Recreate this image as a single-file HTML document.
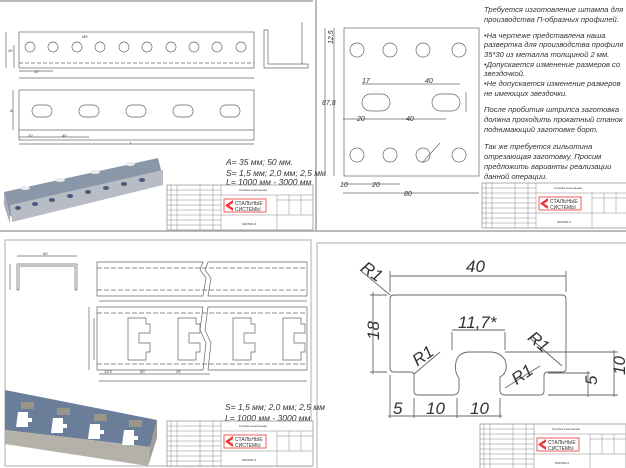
<!DOCTYPE html>
<html><head><meta charset="utf-8"><style>
html,body{margin:0;padding:0;background:#fff;}
svg{display:block;}
text{font-family:"Liberation Sans","DejaVu Sans",sans-serif;font-style:italic;fill:#333;}
</style></head><body>
<svg width="626" height="468" viewBox="0 0 626 468" xmlns="http://www.w3.org/2000/svg">
<rect width="626" height="468" fill="#fff"/>
<!-- panel separators -->
<g stroke="#bbb" stroke-width="2" fill="none">
<line x1="0" y1="1" x2="313" y2="1"/>
<line x1="0" y1="231" x2="626" y2="231"/>
<line x1="316" y1="0" x2="316" y2="231"/>
<rect x="5" y="240" width="306" height="226" stroke-width="1.2"/>
<line x1="317" y1="243" x2="317" y2="468" stroke-width="1.2"/>
<line x1="317" y1="243" x2="626" y2="243" stroke-width="1.2"/>
</g>

<!-- TOP LEFT -->
<g stroke="#666" stroke-width="0.7" fill="none">
<rect x="19" y="32" width="235" height="36"/>
<line x1="19" y1="63" x2="254" y2="63" stroke-dasharray="4 2"/>
<circle cx="30" cy="47" r="5"/><circle cx="53" cy="47" r="5"/><circle cx="77" cy="47" r="5"/><circle cx="100" cy="47" r="5"/><circle cx="124" cy="47" r="5"/><circle cx="147" cy="47" r="5"/><circle cx="171" cy="47" r="5"/><circle cx="194" cy="47" r="5"/><circle cx="217" cy="47" r="5"/><circle cx="241" cy="47" r="5"/>
<line x1="6" y1="32" x2="6" y2="68"/><line x1="14" y1="45" x2="14" y2="68"/>
<line x1="19" y1="78" x2="254" y2="78"/>
<line x1="19" y1="71" x2="53" y2="71"/>
<path d="M264 30 V68 H308 V64 H268 V30 Z"/>
<path d="M302 22 V64"/>
<rect x="19" y="90" width="235" height="50"/>
<line x1="19" y1="130" x2="254" y2="130"/>
<rect x="32" y="105" width="20" height="12" rx="6"/><rect x="79" y="105" width="20" height="12" rx="6"/><rect x="126" y="105" width="20" height="12" rx="6"/><rect x="173" y="105" width="20" height="12" rx="6"/><rect x="220" y="105" width="20" height="12" rx="6"/>
<line x1="13" y1="90" x2="13" y2="130"/>
<line x1="19" y1="137" x2="89" y2="137"/>
<line x1="19" y1="144" x2="254" y2="144"/>
</g>
<g font-size="4">
<text x="8" y="52">30</text><text x="34" y="73">10</text><text x="130" y="144">L</text><text x="10" y="112">A</text><text x="28" y="137">20</text><text x="62" y="137">40</text><text x="82" y="38">Ø9</text>
</g>
<g font-size="8.5"><text x="226" y="165">A= 35 мм; 50 мм.</text><text x="226" y="176">S= 1,5 мм; 2,0 мм; 2,5 мм</text><text x="226" y="185">L= 1000 мм - 3000 мм</text></g>
<!-- 3D profile TL -->
<polygon points="4,192 158,158 163,178 10,216" fill="#8a97a8"/>
<polygon points="4,192 10,216 10,224 4,205" fill="#aab"/>
<polygon points="10,205 163,170 163,185 12,222" fill="#b8bcc4"/>
<g fill="#4a5a7a"><ellipse cx="18" cy="208" rx="3" ry="2"/><ellipse cx="35" cy="204" rx="3" ry="2"/><ellipse cx="52" cy="200" rx="3" ry="2"/><ellipse cx="70" cy="196" rx="3" ry="2"/><ellipse cx="88" cy="192" rx="3" ry="2"/><ellipse cx="106" cy="188" rx="3" ry="2"/><ellipse cx="124" cy="184" rx="3" ry="2"/><ellipse cx="142" cy="180" rx="3" ry="2"/></g>
<g fill="#e8eaee"><ellipse cx="25" cy="188" rx="5" ry="2"/><ellipse cx="60" cy="180" rx="5" ry="2"/><ellipse cx="95" cy="172" rx="5" ry="2"/><ellipse cx="130" cy="164" rx="5" ry="2"/></g>

<!-- TOP RIGHT -->
<g stroke="#666" stroke-width="0.7" fill="none">
<rect x="344" y="28" width="135" height="148"/>
<circle cx="357" cy="50" r="7"/><circle cx="390" cy="50" r="7"/><circle cx="423" cy="50" r="7"/><circle cx="459" cy="50" r="7"/>
<circle cx="357" cy="155" r="7"/><circle cx="390" cy="155" r="7"/><circle cx="423" cy="155" r="7"/><circle cx="459" cy="155" r="7"/>
<rect x="362" y="94" width="28" height="17" rx="8.5"/><rect x="432" y="94" width="28" height="17" rx="8.5"/>
<line x1="334" y1="28" x2="334" y2="176"/><line x1="325" y1="28" x2="325" y2="176"/>
<line x1="362" y1="84" x2="460" y2="84"/><line x1="343" y1="119" x2="446" y2="119"/>
<line x1="343" y1="184" x2="400" y2="184"/><line x1="343" y1="193" x2="479" y2="193"/>
<line x1="466" y1="92" x2="466" y2="112"/>
<line x1="422" y1="163" x2="440" y2="143"/>
</g>
<g font-size="7"><text x="326" y="43" transform="rotate(-90 330 40)">12,5</text><text x="362" y="83">17</text><text x="425" y="83">40</text><text x="357" y="121">20</text><text x="406" y="121">40</text><text x="340" y="187">10</text><text x="372" y="187">20</text><text x="404" y="196">80</text><text x="322" y="105">87,8</text></g>
<g font-size="7.6"><text x="484" y="12">Требуется изготовление штампа для</text><text x="484" y="22">производства П-образных профилей.</text>
<text x="484" y="38">•На чертеже представлена наша</text><text x="484" y="47">развертка для производства профиля</text><text x="484" y="57">35*30 из металла толщиной 2 мм.</text><text x="484" y="67">•Допускается изменение размеров со</text><text x="484" y="76">звездочкой.</text><text x="484" y="86">•Не допускается изменение размеров</text><text x="484" y="96">не имеющих звездочки.</text>
<text x="484" y="112">После пробития штрипса заготовка</text><text x="484" y="122">должна проходить прокатный станок</text><text x="484" y="132">поднимающий заготовке борт.</text>
<text x="484" y="149">Так же требуется гильотина</text><text x="484" y="159">отрезающая заготовку. Просим</text><text x="484" y="169">предложить варианты реализации</text><text x="484" y="179">данной операции.</text></g>

<!-- BOTTOM LEFT -->
<g stroke="#666" stroke-width="0.7" fill="none">
<path d="M17 290 V264 H77 V290 H75 V266 H19 V290 Z"/>
<line x1="17" y1="256" x2="77" y2="256"/>
<line x1="10" y1="264" x2="10" y2="290"/>
<path d="M97 262 H203 L200 270 L206 278 L203 296 H97 Z"/>
<path d="M208 262 H307 V296 H208 L211 278 L205 270 Z"/>
<line x1="97" y1="268" x2="307" y2="268" stroke-dasharray="5 2"/><line x1="97" y1="290" x2="307" y2="290" stroke-dasharray="5 2"/>
<line x1="99" y1="301" x2="307" y2="301"/>
<path d="M97 307 H203 L200 330 L206 343 L203 370 H97 Z"/>
<path d="M208 307 H307 V370 H208 L211 343 L205 330 Z"/>
<line x1="97" y1="313" x2="307" y2="313" stroke-dasharray="5 2"/><line x1="97" y1="364" x2="307" y2="364" stroke-dasharray="5 2"/>
<path d="M128 318 H146 V324 H150 V333 H139 V343 H150 V352 H146 V360 H128 Z"/>
<path d="M178 318 H196 V324 H200 V333 H189 V343 H200 V352 H196 V360 H178 Z"/>
<path d="M233 318 H251 V324 H255 V333 H244 V343 H255 V352 H251 V360 H233 Z"/>
<path d="M283 318 H301 V324 H305 V333 H294 V343 H305 V352 H301 V360 H283 Z"/>
<line x1="89" y1="307" x2="89" y2="370"/><line x1="94" y1="318" x2="94" y2="360"/>
<line x1="99" y1="374" x2="210" y2="374"/><line x1="99" y1="381" x2="307" y2="381"/>
</g>
<g font-size="4"><text x="43" y="255">60</text><text x="104" y="373">13,5</text><text x="140" y="373">50</text><text x="176" y="373">25</text></g>
<g font-size="8.5"><text x="225" y="410">S= 1,5 мм; 2,0 мм; 2,5 мм</text><text x="225" y="421">L= 1000 мм - 3000 мм</text></g>
<polygon points="5,390 157,420 150,447 5,430" fill="#6a7d99"/>
<polygon points="5,430 150,447 148,466 5,444" fill="#b4b2a8"/>
<polygon points="150,447 157,420 157,438 148,466" fill="#a09e94"/>
<g fill="#fff"><path d="M18 412 H28 V418 H32 V422 H28 V427 H16 Z"/><path d="M53 418 H63 V424 H67 V428 H63 V433 H51 Z"/><path d="M90 424 H100 V430 H104 V434 H100 V439 H88 Z"/><path d="M124 430 H134 V436 H138 V440 H134 V445 H122 Z"/></g>
<g fill="#9a958a"><rect x="21" y="402" width="13" height="7"/><rect x="57" y="408" width="13" height="7"/><rect x="94" y="414" width="13" height="7"/><rect x="129" y="420" width="13" height="7"/></g>

<!-- BOTTOM RIGHT -->
<g stroke="#666" stroke-width="0.9" fill="none">
<path d="M394 295 H562 Q566 295 566 299 V369 Q566 372 562 372 H548 Q544 372 544 376 V391 Q544 395 540 395 H505 Q500 395 500 390 V377 Q509 372 505 360 Q500 352 490 352 H470 Q458 352 456 362 Q454 372 459 378 V390 Q458 395 453 395 H418 Q414 395 414 391 V375 Q414 372 410 372 H394 Q390 372 390 368 V299 Q390 295 394 295 Z"/>
<line x1="390" y1="271" x2="390" y2="292"/><line x1="566" y1="271" x2="566" y2="292"/>
<line x1="390" y1="276" x2="566" y2="276"/>
<line x1="370" y1="295" x2="387" y2="295"/><line x1="370" y1="372" x2="387" y2="372"/><line x1="373" y1="292" x2="373" y2="374"/>
<line x1="390" y1="375" x2="390" y2="418"/><line x1="414" y1="398" x2="414" y2="418"/><line x1="457" y1="398" x2="457" y2="418"/><line x1="500" y1="398" x2="500" y2="418"/>
<line x1="388" y1="416" x2="502" y2="416"/>
<line x1="452" y1="332" x2="452" y2="350"/><line x1="505" y1="332" x2="505" y2="350"/><line x1="452" y1="330" x2="505" y2="330"/>
<line x1="505" y1="352" x2="618" y2="352"/><line x1="548" y1="395" x2="618" y2="395"/><line x1="614" y1="350" x2="614" y2="397"/>
<line x1="548" y1="373" x2="590" y2="373"/><line x1="588" y1="371" x2="588" y2="397"/>
<line x1="360" y1="270" x2="390" y2="295"/><line x1="414" y1="374" x2="440" y2="352"/><line x1="505" y1="388" x2="540" y2="366"/><line x1="530" y1="338" x2="562" y2="366"/>
</g>
<g font-size="17" font-style="normal" style="font-style:italic"><text x="466" y="272">40</text><text x="458" y="328">11,7*</text><text x="362" y="277" transform="rotate(35 372 270)">R1</text><text x="374" y="345" transform="rotate(-90 374 340)">18</text><text x="414" y="364" transform="rotate(-35 420 360)">R1</text><text x="513" y="382" transform="rotate(-35 520 378)">R1</text><text x="530" y="346" transform="rotate(40 538 338)">R1</text><text x="393" y="414">5</text><text x="426" y="414">10</text><text x="470" y="414">10</text><text x="592" y="390" transform="rotate(-90 592 385)">5</text><text x="618" y="382" transform="rotate(-90 618 375)">10</text></g>

<!-- Title blocks -->
<g id="tb1" transform="translate(167,185)">
<g stroke="#777" stroke-width="0.6" fill="#fff"><rect x="0" y="0" width="146" height="45"/></g>
<g stroke="#888" stroke-width="0.5" fill="none">
<line x1="54" y1="0" x2="54" y2="45"/><line x1="4" y1="0" x2="4" y2="45"/><line x1="10" y1="0" x2="10" y2="45"/><line x1="33" y1="0" x2="33" y2="45"/><line x1="46" y1="0" x2="46" y2="45"/>
<line x1="0" y1="5" x2="54" y2="5"/><line x1="0" y1="10" x2="54" y2="10"/><line x1="0" y1="15" x2="54" y2="15"/><line x1="0" y1="20" x2="54" y2="20"/><line x1="0" y1="25" x2="54" y2="25"/><line x1="0" y1="30" x2="54" y2="30"/><line x1="0" y1="35" x2="54" y2="35"/><line x1="0" y1="40" x2="54" y2="40"/>
<line x1="54" y1="10" x2="146" y2="10"/><line x1="54" y1="30" x2="110" y2="30"/><line x1="110" y1="10" x2="110" y2="45"/><line x1="110" y1="15" x2="146" y2="15"/><line x1="122" y1="10" x2="122" y2="30"/><line x1="134" y1="10" x2="134" y2="30"/><line x1="110" y1="30" x2="146" y2="30"/>
</g>
<rect x="57" y="14" width="42" height="13" fill="none" stroke="#e33" stroke-width="0.8"/>
<path d="M66 15 L58 20.5 L66 26 L66 23 L62 20.5 L66 18 Z" fill="#e33"/>
<text x="68" y="20" font-size="5" style="font-style:normal" fill="#777">СТАЛЬНЫЕ</text><text x="68" y="26" font-size="5" style="font-style:normal" fill="#777">СИСТЕМЫ</text>
<text x="72" y="6" font-size="3">Стойка консольная</text><text x="75" y="40" font-size="3">SKFN61-0</text>
</g>
<g transform="translate(482,183)">
<rect x="0" y="0" width="146" height="45" stroke="#777" stroke-width="0.6" fill="#fff"/>
<g stroke="#888" stroke-width="0.5" fill="none">
<line x1="54" y1="0" x2="54" y2="45"/><line x1="4" y1="0" x2="4" y2="45"/><line x1="10" y1="0" x2="10" y2="45"/><line x1="33" y1="0" x2="33" y2="45"/><line x1="46" y1="0" x2="46" y2="45"/>
<line x1="0" y1="5" x2="54" y2="5"/><line x1="0" y1="10" x2="54" y2="10"/><line x1="0" y1="15" x2="54" y2="15"/><line x1="0" y1="20" x2="54" y2="20"/><line x1="0" y1="25" x2="54" y2="25"/><line x1="0" y1="30" x2="54" y2="30"/><line x1="0" y1="35" x2="54" y2="35"/><line x1="0" y1="40" x2="54" y2="40"/>
<line x1="54" y1="10" x2="146" y2="10"/><line x1="54" y1="30" x2="110" y2="30"/><line x1="110" y1="10" x2="110" y2="45"/><line x1="110" y1="15" x2="146" y2="15"/><line x1="122" y1="10" x2="122" y2="30"/><line x1="134" y1="10" x2="134" y2="30"/><line x1="110" y1="30" x2="146" y2="30"/>
</g>
<rect x="57" y="14" width="42" height="13" fill="none" stroke="#e33" stroke-width="0.8"/>
<path d="M66 15 L58 20.5 L66 26 L66 23 L62 20.5 L66 18 Z" fill="#e33"/>
<text x="68" y="20" font-size="5" style="font-style:normal" fill="#777">СТАЛЬНЫЕ</text><text x="68" y="26" font-size="5" style="font-style:normal" fill="#777">СИСТЕМЫ</text>
<text x="72" y="6" font-size="3">Стойка консольная</text><text x="75" y="40" font-size="3">SKFN61-0</text>
</g>
<g transform="translate(167,421)">
<rect x="0" y="0" width="146" height="45" stroke="#777" stroke-width="0.6" fill="#fff"/>
<g stroke="#888" stroke-width="0.5" fill="none">
<line x1="54" y1="0" x2="54" y2="45"/><line x1="4" y1="0" x2="4" y2="45"/><line x1="10" y1="0" x2="10" y2="45"/><line x1="33" y1="0" x2="33" y2="45"/><line x1="46" y1="0" x2="46" y2="45"/>
<line x1="0" y1="5" x2="54" y2="5"/><line x1="0" y1="10" x2="54" y2="10"/><line x1="0" y1="15" x2="54" y2="15"/><line x1="0" y1="20" x2="54" y2="20"/><line x1="0" y1="25" x2="54" y2="25"/><line x1="0" y1="30" x2="54" y2="30"/><line x1="0" y1="35" x2="54" y2="35"/><line x1="0" y1="40" x2="54" y2="40"/>
<line x1="54" y1="10" x2="146" y2="10"/><line x1="54" y1="30" x2="110" y2="30"/><line x1="110" y1="10" x2="110" y2="45"/><line x1="110" y1="15" x2="146" y2="15"/><line x1="122" y1="10" x2="122" y2="30"/><line x1="134" y1="10" x2="134" y2="30"/><line x1="110" y1="30" x2="146" y2="30"/>
</g>
<rect x="57" y="14" width="42" height="13" fill="none" stroke="#e33" stroke-width="0.8"/>
<path d="M66 15 L58 20.5 L66 26 L66 23 L62 20.5 L66 18 Z" fill="#e33"/>
<text x="68" y="20" font-size="5" style="font-style:normal" fill="#777">СТАЛЬНЫЕ</text><text x="68" y="26" font-size="5" style="font-style:normal" fill="#777">СИСТЕМЫ</text>
<text x="72" y="6" font-size="3">Стойка консольная</text><text x="75" y="40" font-size="3">SKFN61-0</text>
</g>
<g transform="translate(480,424)">
<rect x="0" y="0" width="146" height="45" stroke="#777" stroke-width="0.6" fill="#fff"/>
<g stroke="#888" stroke-width="0.5" fill="none">
<line x1="54" y1="0" x2="54" y2="45"/><line x1="4" y1="0" x2="4" y2="45"/><line x1="10" y1="0" x2="10" y2="45"/><line x1="33" y1="0" x2="33" y2="45"/><line x1="46" y1="0" x2="46" y2="45"/>
<line x1="0" y1="5" x2="54" y2="5"/><line x1="0" y1="10" x2="54" y2="10"/><line x1="0" y1="15" x2="54" y2="15"/><line x1="0" y1="20" x2="54" y2="20"/><line x1="0" y1="25" x2="54" y2="25"/><line x1="0" y1="30" x2="54" y2="30"/><line x1="0" y1="35" x2="54" y2="35"/><line x1="0" y1="40" x2="54" y2="40"/>
<line x1="54" y1="10" x2="146" y2="10"/><line x1="54" y1="30" x2="110" y2="30"/><line x1="110" y1="10" x2="110" y2="45"/><line x1="110" y1="15" x2="146" y2="15"/><line x1="122" y1="10" x2="122" y2="30"/><line x1="134" y1="10" x2="134" y2="30"/><line x1="110" y1="30" x2="146" y2="30"/>
</g>
<rect x="57" y="14" width="42" height="13" fill="none" stroke="#e33" stroke-width="0.8"/>
<path d="M66 15 L58 20.5 L66 26 L66 23 L62 20.5 L66 18 Z" fill="#e33"/>
<text x="68" y="20" font-size="5" style="font-style:normal" fill="#777">СТАЛЬНЫЕ</text><text x="68" y="26" font-size="5" style="font-style:normal" fill="#777">СИСТЕМЫ</text>
<text x="72" y="6" font-size="3">Стойка консольная</text><text x="75" y="40" font-size="3">SKFN61-0</text>
</g>
</svg>
</body></html>
